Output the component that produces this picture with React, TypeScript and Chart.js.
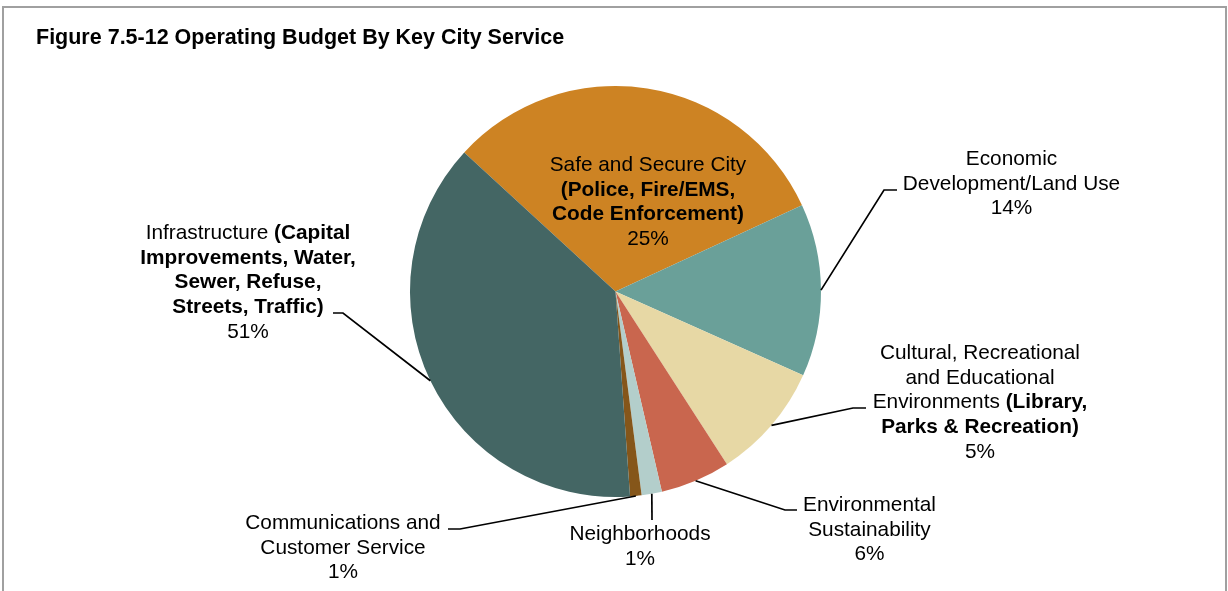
import { useEffect, useRef } from "react";
import { Chart, registerables } from "chart.js";

Chart.register(...registerables);

// ---- Data ----
const titleText = "Figure 7.5-12 Operating Budget By Key City Service";
const categories = [
  "Safe and Secure City",
  "Economic Development/Land Use",
  "Cultural, Recreational and Educational Environments",
  "Environmental Sustainability",
  "Neighborhoods",
  "Communications and Customer Service",
  "Infrastructure",
];
// slice sizes as drawn in the picture (share of the circle, %)
const sliceValues = [31.3, 13.6, 9.2, 5.5, 1.6, 0.9, 38.0];
// percentages as printed on the labels
const percentLabels = ["25%", "14%", "5%", "6%", "1%", "1%", "51%"];
const sliceColors = ["#CD8323", "#6AA099", "#E7D8A5", "#C9664E", "#B3CECB", "#85561A", "#446664"];

type Seg = [string, boolean];
const labelLines: Seg[][][] = [
  [[["Safe and Secure City", false]], [["(Police, Fire/EMS,", true]], [["Code Enforcement)", true]]],
  [[["Economic", false]], [["Development/Land Use", false]]],
  [
    [["Cultural, Recreational", false]],
    [["and Educational", false]],
    [["Environments ", false], ["(Library,", true]],
    [["Parks & Recreation)", true]],
  ],
  [[["Environmental", false]], [["Sustainability", false]]],
  [[["Neighborhoods", false]]],
  [[["Communications and", false]], [["Customer Service", false]]],
  [
    [["Infrastructure ", false], ["(Capital", true]],
    [["Improvements, Water,", true]],
    [["Sewer, Refuse,", true]],
    [["Streets, Traffic)", true]],
  ],
];

// ---- Label placement (offsets from pie centre, px) ----
type Layout = { dx: number; dy: number; elbow?: [number, number]; end?: [number, number] };
const labelLayout: Layout[] = [
  { dx: 32.5, dy: -126.5 },
  { dx: 396, dy: -132.5, elbow: [268.5, -101.5], end: [281.5, -101.5] },
  { dx: 364.5, dy: 61.5, elbow: [237.5, 116.5], end: [250.5, 116.5] },
  { dx: 254, dy: 213.5, elbow: [169.5, 218.5], end: [181.5, 218.5] },
  { dx: 24.5, dy: 242.5, elbow: [36.5, 228.5], end: [36.5, 228.5] },
  { dx: -272.5, dy: 231.5, elbow: [-155.5, 237.5], end: [-167.5, 237.5] },
  { dx: -367.5, dy: -58.5, elbow: [-272.5, 21.5], end: [-282.5, 21.5] },
];

const FONT_FAMILY = '"Liberation Sans", Arial, Helvetica, sans-serif';
const FONT_SIZE = 20.8;
const LINE_H = 24.8;

const labelPlugin = {
  id: "customLabels",
  beforeDraw(chart: any) {
    const ctx = chart.ctx as CanvasRenderingContext2D;
    ctx.save();
    ctx.fillStyle = "#ffffff";
    ctx.fillRect(0, 0, chart.width, chart.height);
    ctx.strokeStyle = "#a0a0a0";
    ctx.lineWidth = 2;
    ctx.strokeRect(3, 7, 1223, 620);
    ctx.fillStyle = "#000";
    ctx.font = `bold 21.5px ${FONT_FAMILY}`;
    ctx.textAlign = "left";
    ctx.textBaseline = "middle";
    ctx.fillText(titleText, 36, 38);
    ctx.restore();
  },
  afterDatasetsDraw(chart: any) {
    const ctx = chart.ctx as CanvasRenderingContext2D;
    const meta = chart.getDatasetMeta(0);
    ctx.save();
    meta.data.forEach((arc: any, i: number) => {
      const p = arc.getProps(["x", "y", "startAngle", "endAngle", "outerRadius"], true);
      const cx = p.x;
      const cy = p.y;
      const mid = (p.startAngle + p.endAngle) / 2;
      const lay = labelLayout[i];
      if (lay.elbow && lay.end) {
        const ax = cx + Math.cos(mid) * p.outerRadius;
        const ay = cy + Math.sin(mid) * p.outerRadius;
        ctx.beginPath();
        ctx.strokeStyle = "#000";
        ctx.lineWidth = 1.7;
        ctx.moveTo(ax, ay);
        ctx.lineTo(cx + lay.elbow[0], cy + lay.elbow[1]);
        ctx.lineTo(cx + lay.end[0], cy + lay.end[1]);
        ctx.stroke();
      }
      const lines: Seg[][] = [...labelLines[i], [[percentLabels[i], false]]];
      const tx = cx + lay.dx;
      let ty = cy + lay.dy;
      ctx.fillStyle = "#000";
      ctx.textBaseline = "middle";
      ctx.textAlign = "left";
      lines.forEach((line) => {
        let total = 0;
        const widths = line.map(([t, b]) => {
          ctx.font = `${b ? "bold " : ""}${FONT_SIZE}px ${FONT_FAMILY}`;
          const w = ctx.measureText(t).width;
          total += w;
          return w;
        });
        let x = tx - total / 2;
        line.forEach(([t, b], k) => {
          ctx.font = `${b ? "bold " : ""}${FONT_SIZE}px ${FONT_FAMILY}`;
          ctx.fillText(t, x, ty);
          x += widths[k];
        });
        ty += LINE_H;
      });
    });
    ctx.restore();
  },
};

export default function App() {
  const canvasRef = useRef<HTMLCanvasElement | null>(null);

  useEffect(() => {
    if (!canvasRef.current) return;
    const chart = new Chart(canvasRef.current, {
      type: "pie",
      data: {
        labels: categories,
        datasets: [
          {
            data: sliceValues,
            backgroundColor: sliceColors,
            borderWidth: 0,
            hoverOffset: 0,
          },
        ],
      },
      options: {
        responsive: false,
        animation: false,
        devicePixelRatio: 1,
        rotation: -47.4,
        layout: { padding: { left: 410, right: 407, top: 86, bottom: 94 } },
        plugins: {
          legend: { display: false },
          tooltip: { enabled: false },
          title: { display: false },
        },
      },
      plugins: [labelPlugin],
    });
    return () => chart.destroy();
  }, []);

  return (
    <div style={{ position: "fixed", left: 0, top: 0, width: 1228, height: 591, background: "#fff" }}>
      <canvas ref={canvasRef} width={1228} height={591} style={{ display: "block" }} />
    </div>
  );
}
